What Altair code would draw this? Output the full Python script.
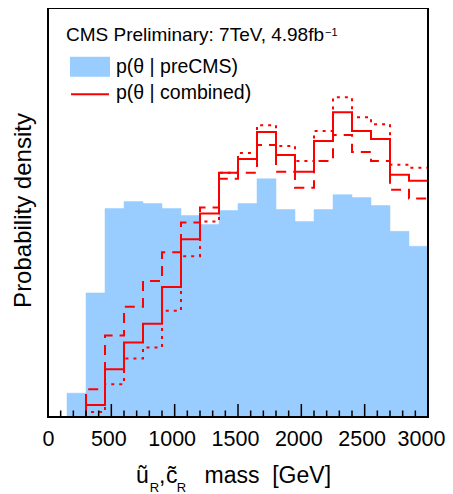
import altair as alt
import pandas as pd

# ---------------- data ----------------
bin_edges = [0, 150, 300, 450, 600, 750, 900, 1050, 1200, 1350, 1500,
             1650, 1800, 1950, 2100, 2250, 2400, 2550, 2700, 2850, 3000]
p_precms = [0, 24, 125, 210, 217, 215, 210, 203, 194, 208,
            215, 240, 209, 197, 209, 224, 221, 213, 187, 172]
p_combined = [0, 0, 12, 48, 75, 94, 131, 179, 205, 246,
              260, 287, 264, 247, 278, 307, 288, 280, 244, 238]
p_comb_dashed = [0, 0, 28, 82, 111, 137, 166, 196, 211, 240,
                 246, 274, 247, 231, 258, 284, 267, 258, 229, 220]
p_comb_dotted = [0, 0, 5, 33, 59, 70, 107, 162, 197, 246,
                 266, 294, 273, 258, 288, 322, 302, 295, 254, 251]
x_labels = [0, 500, 1000, 1500, 2000, 2500, 3000]
minor_ticks = [100, 200, 300, 400, 600, 700, 800, 900, 1100, 1200, 1300, 1400,
               1600, 1700, 1800, 1900, 2100, 2200, 2300, 2400, 2600, 2700,
               2800, 2900]

# ---------------- style / layout ----------------
FONT = "Liberation Sans"
BLUE = "#99CCFF"
RED = "#FF0000"
W, H = 380, 409
Y_MAX = 412

xs = alt.Scale(domain=[0, 3000], nice=False, zero=False)
ys = alt.Scale(domain=[0, Y_MAX], nice=False)
xa = alt.Axis(values=x_labels, title=None, ticks=False, tickSize=0, domain=False,
              grid=False, labelFontSize=21.5, labelFont=FONT, labelColor="black",
              labelPadding=11, labelFlush=False, format="d",
              labelOffset={"condition": [{"test": "datum.value == 0", "value": 0},
                                         {"test": "datum.value == 3000", "value": -7}],
                           "value": -3})

bars = pd.DataFrame({"lo": bin_edges[:-1], "hi": bin_edges[1:], "p": p_precms})


def step_df(vals):
    return pd.DataFrame({"x": bin_edges, "y": vals + [vals[-1]]})


bar_layer = alt.Chart(bars).mark_rect(color=BLUE, stroke=BLUE, strokeWidth=0.5).encode(
    x=alt.X("lo:Q", scale=xs, axis=xa),
    x2="hi:Q",
    y=alt.Y("p:Q", scale=ys, axis=None),
    y2=alt.datum(0),
)


def line_layer(vals, dash=None):
    kw = dict(color=RED, strokeWidth=2, interpolate="step-after")
    if dash:
        kw["strokeDash"] = dash
    return alt.Chart(step_df(vals)).mark_line(**kw).encode(
        x=alt.X("x:Q", scale=xs, axis=xa),
        y=alt.Y("y:Q", scale=ys, axis=None),
    )


dotted = line_layer(p_comb_dotted, [3, 5])
dashed = line_layer(p_comb_dashed, [10, 7])
solid = line_layer(p_combined)

major = alt.Chart(pd.DataFrame({"t": x_labels})).mark_rule(color="black", strokeWidth=1.5).encode(
    x=alt.X("t:Q", scale=xs, axis=xa), y=alt.value(H), y2=alt.value(H - 13))
minor = alt.Chart(pd.DataFrame({"t": minor_ticks})).mark_rule(color="black", strokeWidth=1.5).encode(
    x=alt.X("t:Q", scale=xs, axis=xa), y=alt.value(H), y2=alt.value(H - 6.5))

one = pd.DataFrame({"k": [0]})
frame = alt.Chart(one).mark_rect(filled=False, stroke="black", strokeWidth=2).encode(
    x=alt.value(0), x2=alt.value(W), y=alt.value(0), y2=alt.value(H))


def txt(s, x, y, size, angle=0, align="left", baseline="alphabetic"):
    return alt.Chart(pd.DataFrame({"t": [s]})).mark_text(
        align=align, baseline=baseline, fontSize=size, font=FONT, color="black",
        angle=angle).encode(x=alt.value(x), y=alt.value(y), text="t:N")


leg_rect = alt.Chart(one).mark_rect(color=BLUE).encode(
    x=alt.value(22), x2=alt.value(62), y=alt.value(48.7), y2=alt.value(68.7))
leg_line = alt.Chart(one).mark_rule(color=RED, strokeWidth=2).encode(
    x=alt.value(23), x2=alt.value(61), y=alt.value(86.3))

texts = [
    txt("CMS Preliminary: 7TeV, 4.98fb", 18, 32.5, 19),
    txt("\u22121", 277, 28, 11),
    txt("p(\u03b8 | preCMS)", 68, 65.3, 19.5),
    txt("p(\u03b8 | combined)", 68, 90.5, 19.5),
    txt("Probability density", -17, 202.5, 24, angle=270, align="center"),
    txt("\u0169", 88, 475.3, 23),
    txt("R", 101.7, 484, 13),
    txt(",", 111, 475.3, 23),
    txt("c\u0303", 118, 475.3, 23),
    txt("R", 128.7, 484, 13),
    txt("mass\u00a0\u00a0[GeV]", 156.5, 475.3, 23),
]

chart = alt.layer(
    bar_layer, dotted, dashed, solid, major, minor, frame, leg_rect, leg_line, *texts
).properties(
    width=W, height=H,
    autosize=alt.AutoSizeParams(type="none"),
    padding={"left": 40, "top": 0, "right": 17, "bottom": 77},
).configure_view(stroke="transparent")

chart.save("out.html", embed_options={"renderer": "svg", "actions": False})
